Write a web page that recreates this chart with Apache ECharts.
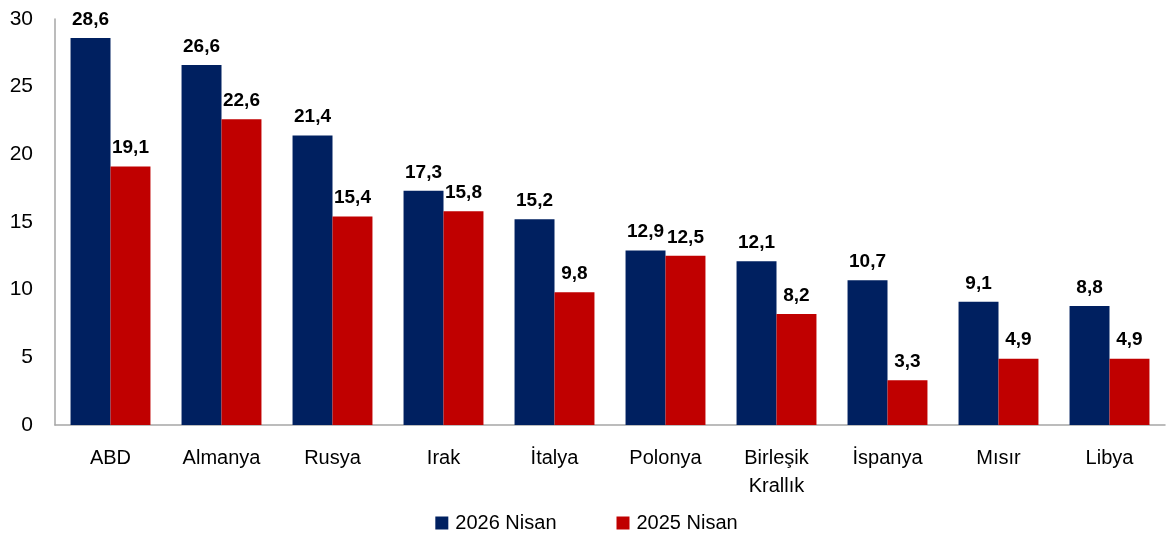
<!DOCTYPE html>
<html><head><meta charset="utf-8">
<script src="https://cdn.jsdelivr.net/npm/echarts@6/dist/echarts.min.js"></script>
<style>html,body{margin:0;padding:0;background:#fff}#c{width:1173px;height:541px}</style>
</head><body><div id="c"></div>
<script>
const categories = ['ABD','Almanya','Rusya','Irak','İtalya','Polonya','Birleşik\nKrallık','İspanya','Mısır','Libya'];
const s2026 = [28.6,26.6,21.4,17.3,15.2,12.9,12.1,10.7,9.1,8.8];
const s2025 = [19.1,22.6,15.4,15.8,9.8,12.5,8.2,3.3,4.9,4.9];
const yTicks = [0,5,10,15,20,25,30];
const FONT = 'Liberation Sans';
const chart = echarts.init(document.getElementById('c'));
const lbl = {show:true, position:'top', distance:9, fontFamily:FONT, fontWeight:'bold', fontSize:19, color:'#000',
  formatter: p => p.value.toFixed(1).replace('.', ',')};
chart.setOption({
  animation:false,
  textStyle:{fontFamily:FONT},
  grid:{left:55, right:8, top:19, bottom:116},
  legend:{bottom:3, left:'center', itemWidth:13, itemHeight:13, itemGap:60, icon:'rect',
    textStyle:{fontFamily:FONT, fontSize:20, color:'#000', padding:[0,0,0,2]}},
  xAxis:{type:'category', data:categories,
    axisLine:{lineStyle:{color:'#a6a6a6', width:1.5}}, axisTick:{show:false},
    axisLabel:{fontFamily:FONT, fontSize:20, color:'#000', margin:19, lineHeight:28, interval:0}},
  yAxis:{type:'value', min:yTicks[0], max:yTicks[yTicks.length-1], interval:5,
    axisLine:{show:true, lineStyle:{color:'#a6a6a6', width:1.5}}, axisTick:{show:false}, splitLine:{show:false},
    axisLabel:{fontFamily:FONT, fontSize:21, color:'#000', margin:22}},
  series:[
    {name:'2026 Nisan', type:'bar', data:s2026, barGap:'0%', barCategoryGap:'28%', itemStyle:{color:'#002060'}, label:lbl},
    {name:'2025 Nisan', type:'bar', data:s2025, itemStyle:{color:'#C00000'}, label:lbl}
  ]
});
</script></body></html>
